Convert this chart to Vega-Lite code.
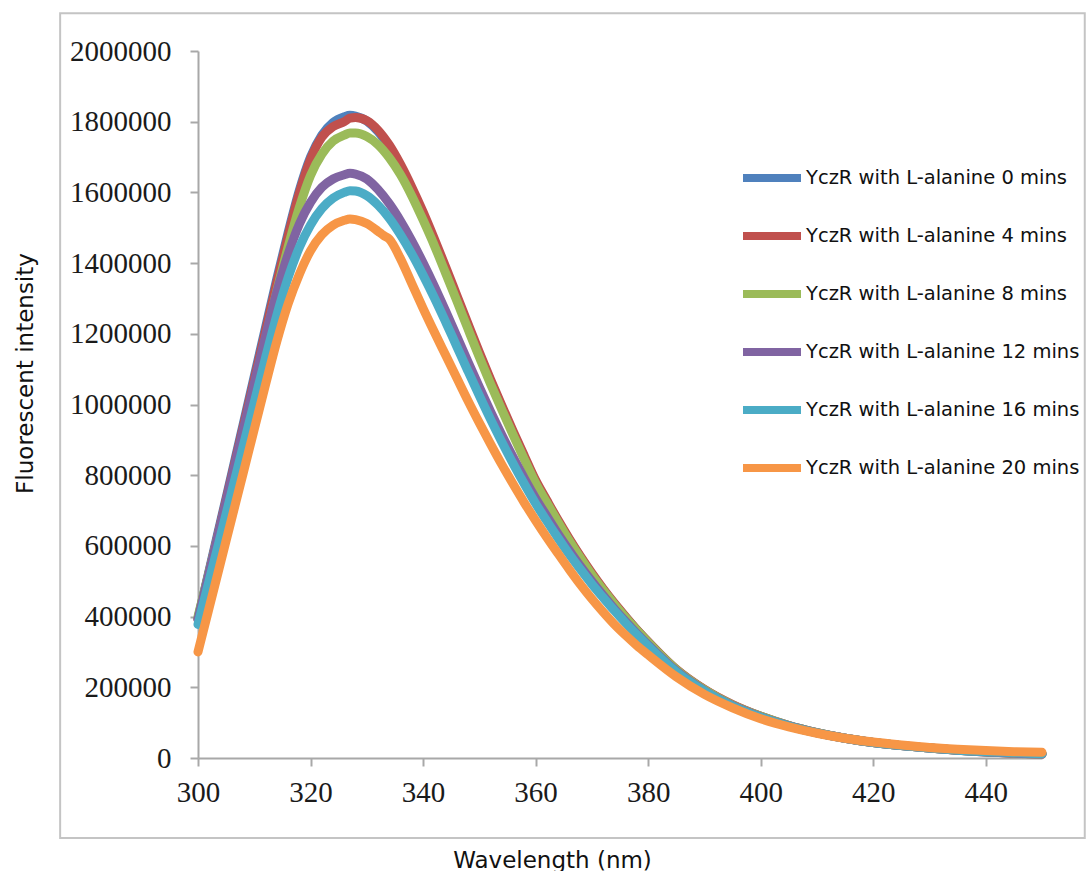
{
  "$schema": "https://vega.github.io/schema/vega-lite/v6.json",
  "width": 844,
  "height": 707,
  "autosize": {"type": "none"},
  "padding": {"left": 198, "top": 51, "right": 46, "bottom": 113},
  "background": "white",
  "config": {
    "view": {"stroke": null},
    "axis": {
      "grid": false,
      "domainColor": "#a8a8a8",
      "domainWidth": 2,
      "tickColor": "#a8a8a8",
      "tickWidth": 2,
      "tickSize": 8,
      "labelFont": "Liberation Serif",
      "labelFontSize": 29,
      "labelColor": "#1a1a1a",
      "labelFlush": false,
      "titleFont": "DejaVu Sans",
      "titleFontSize": 23,
      "titleFontWeight": "normal",
      "titleColor": "#111111"
    },
    "legend": {
      "labelFont": "DejaVu Sans",
      "labelFontSize": 19.5,
      "labelColor": "#111111",
      "labelLimit": 400
    }
  },
  "datasets": {
    "spectra": [
      {"t":0,"nm":300,"v":395000},{"t":0,"nm":302,"v":532000},{"t":0,"nm":304,"v":668000},{"t":0,"nm":306,"v":805000},{"t":0,"nm":308,"v":942000},{"t":0,"nm":310,"v":1080000},{"t":0,"nm":312,"v":1218000},{"t":0,"nm":314,"v":1355000},{"t":0,"nm":316,"v":1485000},{"t":0,"nm":318,"v":1605000},{"t":0,"nm":320,"v":1700000},{"t":0,"nm":322,"v":1762000},{"t":0,"nm":324,"v":1798000},{"t":0,"nm":326,"v":1814000},{"t":0,"nm":327,"v":1818000},{"t":0,"nm":328,"v":1816000},{"t":0,"nm":330,"v":1802000},{"t":0,"nm":332,"v":1772000},{"t":0,"nm":334,"v":1728000},{"t":0,"nm":336,"v":1672000},{"t":0,"nm":338,"v":1608000},{"t":0,"nm":340,"v":1538000},{"t":0,"nm":342,"v":1462000},{"t":0,"nm":344,"v":1383000},{"t":0,"nm":346,"v":1303000},{"t":0,"nm":348,"v":1222000},{"t":0,"nm":350,"v":1142000},{"t":0,"nm":352,"v":1066000},{"t":0,"nm":354,"v":992000},{"t":0,"nm":356,"v":920000},{"t":0,"nm":358,"v":850000},{"t":0,"nm":360,"v":782000},{"t":0,"nm":362,"v":725000},{"t":0,"nm":364,"v":670000},{"t":0,"nm":366,"v":617000},{"t":0,"nm":368,"v":567000},{"t":0,"nm":370,"v":520000},{"t":0,"nm":372,"v":477000},{"t":0,"nm":374,"v":436000},{"t":0,"nm":376,"v":398000},{"t":0,"nm":378,"v":362000},{"t":0,"nm":380,"v":328000},{"t":0,"nm":385,"v":250000},{"t":0,"nm":390,"v":193000},{"t":0,"nm":395,"v":150000},{"t":0,"nm":400,"v":118000},{"t":0,"nm":405,"v":92000},{"t":0,"nm":410,"v":72000},{"t":0,"nm":415,"v":56000},{"t":0,"nm":420,"v":44000},{"t":0,"nm":425,"v":35000},{"t":0,"nm":430,"v":28000},{"t":0,"nm":435,"v":22000},{"t":0,"nm":440,"v":17000},{"t":0,"nm":445,"v":14000},{"t":0,"nm":450,"v":11000},
      {"t":4,"nm":300,"v":392000},{"t":4,"nm":302,"v":527000},{"t":4,"nm":304,"v":662000},{"t":4,"nm":306,"v":798000},{"t":4,"nm":308,"v":934000},{"t":4,"nm":310,"v":1071000},{"t":4,"nm":312,"v":1208000},{"t":4,"nm":314,"v":1345000},{"t":4,"nm":316,"v":1476000},{"t":4,"nm":318,"v":1598000},{"t":4,"nm":320,"v":1694000},{"t":4,"nm":322,"v":1756000},{"t":4,"nm":324,"v":1786000},{"t":4,"nm":326,"v":1800000},{"t":4,"nm":327,"v":1810000},{"t":4,"nm":328,"v":1812000},{"t":4,"nm":330,"v":1803000},{"t":4,"nm":332,"v":1776000},{"t":4,"nm":334,"v":1734000},{"t":4,"nm":336,"v":1679000},{"t":4,"nm":338,"v":1615000},{"t":4,"nm":340,"v":1545000},{"t":4,"nm":342,"v":1469000},{"t":4,"nm":344,"v":1390000},{"t":4,"nm":346,"v":1309000},{"t":4,"nm":348,"v":1228000},{"t":4,"nm":350,"v":1148000},{"t":4,"nm":352,"v":1071000},{"t":4,"nm":354,"v":997000},{"t":4,"nm":356,"v":925000},{"t":4,"nm":358,"v":855000},{"t":4,"nm":360,"v":786000},{"t":4,"nm":362,"v":729000},{"t":4,"nm":364,"v":673000},{"t":4,"nm":366,"v":620000},{"t":4,"nm":368,"v":570000},{"t":4,"nm":370,"v":523000},{"t":4,"nm":372,"v":479000},{"t":4,"nm":374,"v":438000},{"t":4,"nm":376,"v":400000},{"t":4,"nm":378,"v":363000},{"t":4,"nm":380,"v":329000},{"t":4,"nm":385,"v":251000},{"t":4,"nm":390,"v":194000},{"t":4,"nm":395,"v":151000},{"t":4,"nm":400,"v":118000},{"t":4,"nm":405,"v":92000},{"t":4,"nm":410,"v":72000},{"t":4,"nm":415,"v":56000},{"t":4,"nm":420,"v":44000},{"t":4,"nm":425,"v":35000},{"t":4,"nm":430,"v":28000},{"t":4,"nm":435,"v":22000},{"t":4,"nm":440,"v":17000},{"t":4,"nm":445,"v":14000},{"t":4,"nm":450,"v":11000},
      {"t":8,"nm":300,"v":400000},{"t":8,"nm":302,"v":527000},{"t":8,"nm":304,"v":655000},{"t":8,"nm":306,"v":785000},{"t":8,"nm":308,"v":918000},{"t":8,"nm":310,"v":1052000},{"t":8,"nm":312,"v":1187000},{"t":8,"nm":314,"v":1320000},{"t":8,"nm":316,"v":1445000},{"t":8,"nm":318,"v":1557000},{"t":8,"nm":320,"v":1648000},{"t":8,"nm":322,"v":1708000},{"t":8,"nm":324,"v":1745000},{"t":8,"nm":326,"v":1762000},{"t":8,"nm":327,"v":1768000},{"t":8,"nm":328,"v":1768000},{"t":8,"nm":330,"v":1758000},{"t":8,"nm":332,"v":1735000},{"t":8,"nm":334,"v":1698000},{"t":8,"nm":336,"v":1650000},{"t":8,"nm":338,"v":1590000},{"t":8,"nm":340,"v":1522000},{"t":8,"nm":342,"v":1450000},{"t":8,"nm":344,"v":1372000},{"t":8,"nm":346,"v":1293000},{"t":8,"nm":348,"v":1213000},{"t":8,"nm":350,"v":1134000},{"t":8,"nm":352,"v":1058000},{"t":8,"nm":354,"v":985000},{"t":8,"nm":356,"v":914000},{"t":8,"nm":358,"v":845000},{"t":8,"nm":360,"v":778000},{"t":8,"nm":362,"v":722000},{"t":8,"nm":364,"v":667000},{"t":8,"nm":366,"v":614000},{"t":8,"nm":368,"v":565000},{"t":8,"nm":370,"v":518000},{"t":8,"nm":372,"v":475000},{"t":8,"nm":374,"v":435000},{"t":8,"nm":376,"v":397000},{"t":8,"nm":378,"v":361000},{"t":8,"nm":380,"v":327000},{"t":8,"nm":385,"v":250000},{"t":8,"nm":390,"v":193000},{"t":8,"nm":395,"v":150000},{"t":8,"nm":400,"v":118000},{"t":8,"nm":405,"v":92000},{"t":8,"nm":410,"v":72000},{"t":8,"nm":415,"v":56000},{"t":8,"nm":420,"v":44000},{"t":8,"nm":425,"v":35000},{"t":8,"nm":430,"v":28000},{"t":8,"nm":435,"v":22000},{"t":8,"nm":440,"v":18000},{"t":8,"nm":445,"v":14000},{"t":8,"nm":450,"v":12000},
      {"t":12,"nm":300,"v":392000},{"t":12,"nm":302,"v":525000},{"t":12,"nm":304,"v":658000},{"t":12,"nm":306,"v":792000},{"t":12,"nm":308,"v":926000},{"t":12,"nm":310,"v":1060000},{"t":12,"nm":312,"v":1193000},{"t":12,"nm":314,"v":1318000},{"t":12,"nm":316,"v":1424000},{"t":12,"nm":318,"v":1510000},{"t":12,"nm":320,"v":1572000},{"t":12,"nm":322,"v":1614000},{"t":12,"nm":324,"v":1638000},{"t":12,"nm":326,"v":1650000},{"t":12,"nm":327,"v":1654000},{"t":12,"nm":328,"v":1652000},{"t":12,"nm":330,"v":1638000},{"t":12,"nm":332,"v":1608000},{"t":12,"nm":334,"v":1568000},{"t":12,"nm":336,"v":1519000},{"t":12,"nm":338,"v":1463000},{"t":12,"nm":340,"v":1401000},{"t":12,"nm":342,"v":1335000},{"t":12,"nm":344,"v":1265000},{"t":12,"nm":346,"v":1193000},{"t":12,"nm":348,"v":1120000},{"t":12,"nm":350,"v":1049000},{"t":12,"nm":352,"v":980000},{"t":12,"nm":354,"v":914000},{"t":12,"nm":356,"v":851000},{"t":12,"nm":358,"v":791000},{"t":12,"nm":360,"v":735000},{"t":12,"nm":362,"v":684000},{"t":12,"nm":364,"v":634000},{"t":12,"nm":366,"v":587000},{"t":12,"nm":368,"v":542000},{"t":12,"nm":370,"v":500000},{"t":12,"nm":372,"v":460000},{"t":12,"nm":374,"v":422000},{"t":12,"nm":376,"v":386000},{"t":12,"nm":378,"v":352000},{"t":12,"nm":380,"v":320000},{"t":12,"nm":385,"v":246000},{"t":12,"nm":390,"v":190000},{"t":12,"nm":395,"v":148000},{"t":12,"nm":400,"v":116000},{"t":12,"nm":405,"v":91000},{"t":12,"nm":410,"v":71000},{"t":12,"nm":415,"v":56000},{"t":12,"nm":420,"v":44000},{"t":12,"nm":425,"v":35000},{"t":12,"nm":430,"v":28000},{"t":12,"nm":435,"v":22000},{"t":12,"nm":440,"v":18000},{"t":12,"nm":445,"v":14000},{"t":12,"nm":450,"v":12000},
      {"t":16,"nm":300,"v":378000},{"t":16,"nm":302,"v":503000},{"t":16,"nm":304,"v":628000},{"t":16,"nm":306,"v":754000},{"t":16,"nm":308,"v":880000},{"t":16,"nm":310,"v":1006000},{"t":16,"nm":312,"v":1132000},{"t":16,"nm":314,"v":1252000},{"t":16,"nm":316,"v":1358000},{"t":16,"nm":318,"v":1444000},{"t":16,"nm":320,"v":1508000},{"t":16,"nm":322,"v":1554000},{"t":16,"nm":324,"v":1584000},{"t":16,"nm":326,"v":1600000},{"t":16,"nm":327,"v":1605000},{"t":16,"nm":328,"v":1604000},{"t":16,"nm":330,"v":1591000},{"t":16,"nm":332,"v":1564000},{"t":16,"nm":334,"v":1527000},{"t":16,"nm":336,"v":1480000},{"t":16,"nm":338,"v":1426000},{"t":16,"nm":340,"v":1366000},{"t":16,"nm":342,"v":1302000},{"t":16,"nm":344,"v":1234000},{"t":16,"nm":346,"v":1164000},{"t":16,"nm":348,"v":1094000},{"t":16,"nm":350,"v":1025000},{"t":16,"nm":352,"v":958000},{"t":16,"nm":354,"v":894000},{"t":16,"nm":356,"v":833000},{"t":16,"nm":358,"v":775000},{"t":16,"nm":360,"v":720000},{"t":16,"nm":362,"v":670000},{"t":16,"nm":364,"v":622000},{"t":16,"nm":366,"v":576000},{"t":16,"nm":368,"v":533000},{"t":16,"nm":370,"v":492000},{"t":16,"nm":372,"v":454000},{"t":16,"nm":374,"v":417000},{"t":16,"nm":376,"v":382000},{"t":16,"nm":378,"v":349000},{"t":16,"nm":380,"v":317000},{"t":16,"nm":385,"v":244000},{"t":16,"nm":390,"v":189000},{"t":16,"nm":395,"v":147000},{"t":16,"nm":400,"v":115000},{"t":16,"nm":405,"v":90000},{"t":16,"nm":410,"v":71000},{"t":16,"nm":415,"v":56000},{"t":16,"nm":420,"v":44000},{"t":16,"nm":425,"v":35000},{"t":16,"nm":430,"v":28000},{"t":16,"nm":435,"v":22000},{"t":16,"nm":440,"v":18000},{"t":16,"nm":445,"v":15000},{"t":16,"nm":450,"v":12000},
      {"t":20,"nm":300,"v":300000},{"t":20,"nm":302,"v":426000},{"t":20,"nm":304,"v":552000},{"t":20,"nm":306,"v":678000},{"t":20,"nm":308,"v":804000},{"t":20,"nm":310,"v":930000},{"t":20,"nm":312,"v":1056000},{"t":20,"nm":314,"v":1178000},{"t":20,"nm":316,"v":1284000},{"t":20,"nm":318,"v":1368000},{"t":20,"nm":320,"v":1435000},{"t":20,"nm":322,"v":1480000},{"t":20,"nm":324,"v":1507000},{"t":20,"nm":326,"v":1521000},{"t":20,"nm":327,"v":1525000},{"t":20,"nm":328,"v":1523000},{"t":20,"nm":330,"v":1512000},{"t":20,"nm":332,"v":1490000},{"t":20,"nm":333,"v":1478000},{"t":20,"nm":334,"v":1468000},{"t":20,"nm":336,"v":1412000},{"t":20,"nm":338,"v":1342000},{"t":20,"nm":340,"v":1272000},{"t":20,"nm":342,"v":1205000},{"t":20,"nm":344,"v":1140000},{"t":20,"nm":346,"v":1075000},{"t":20,"nm":348,"v":1010000},{"t":20,"nm":350,"v":948000},{"t":20,"nm":352,"v":888000},{"t":20,"nm":354,"v":830000},{"t":20,"nm":356,"v":775000},{"t":20,"nm":358,"v":722000},{"t":20,"nm":360,"v":672000},{"t":20,"nm":362,"v":624000},{"t":20,"nm":364,"v":578000},{"t":20,"nm":366,"v":533000},{"t":20,"nm":368,"v":490000},{"t":20,"nm":370,"v":450000},{"t":20,"nm":372,"v":413000},{"t":20,"nm":374,"v":378000},{"t":20,"nm":376,"v":347000},{"t":20,"nm":378,"v":318000},{"t":20,"nm":380,"v":292000},{"t":20,"nm":385,"v":230000},{"t":20,"nm":390,"v":180000},{"t":20,"nm":395,"v":142000},{"t":20,"nm":400,"v":111000},{"t":20,"nm":405,"v":88000},{"t":20,"nm":410,"v":70000},{"t":20,"nm":415,"v":56000},{"t":20,"nm":420,"v":45000},{"t":20,"nm":425,"v":37000},{"t":20,"nm":430,"v":30000},{"t":20,"nm":435,"v":25000},{"t":20,"nm":440,"v":21000},{"t":20,"nm":445,"v":18000},{"t":20,"nm":450,"v":16000}
    ]
  },
  "layer": [
    {
      "data": {"values": [{}]},
      "mark": {"type": "rect", "fill": null, "filled": false, "stroke": "#c4c4c4", "strokeWidth": 2, "clip": false},
      "encoding": {
        "x": {"datum": 275.5, "type": "quantitative"},
        "x2": {"datum": 457.6},
        "y": {"datum": 2107000, "type": "quantitative"},
        "y2": {"datum": -226000}
      }
    },
    {
      "data": {"name": "spectra"},
      "mark": {"type": "line", "strokeWidth": 9, "interpolate": "monotone", "strokeCap": "round", "strokeJoin": "round"},
      "encoding": {
        "x": {
          "field": "nm", "type": "quantitative",
          "scale": {"domain": [300, 450], "nice": false, "zero": false},
          "axis": {
            "title": "Wavelength (nm)",
            "values": [300, 320, 340, 360, 380, 400, 420, 440],
            "labelPadding": 12,
            "titleX": 354,
            "titleY": 109,
            "titleBaseline": "alphabetic",
            "titleAnchor": null
          }
        },
        "y": {
          "field": "v", "type": "quantitative",
          "scale": {"domain": [0, 2000000], "nice": false},
          "axis": {
            "title": "Fluorescent intensity",
            "values": [0, 200000, 400000, 600000, 800000, 1000000, 1200000, 1400000, 1600000, 1800000, 2000000],
            "format": "d",
            "labelPadding": 19,
            "titleX": -166,
            "titleY": 322,
            "titleBaseline": "alphabetic",
            "titleAngle": -90
          }
        },
        "color": {
          "field": "t", "type": "nominal",
          "scale": {"domain": [0, 4, 8, 12, 16, 20], "range": ["#4F81BD", "#C0504D", "#9BBB59", "#8064A2", "#4BACC6", "#F79646"]},
          "legend": {
            "title": null,
            "orient": "none",
            "legendX": 541,
            "legendY": 94,
            "symbolType": "stroke",
            "symbolSize": 3364,
            "symbolStrokeWidth": 8,
            "rowPadding": 9,
            "labelOffset": 1,
            "labelExpr": "'YczR with L-alanine ' + datum.label + ' mins'"
          }
        }
      }
    }
  ]
}
